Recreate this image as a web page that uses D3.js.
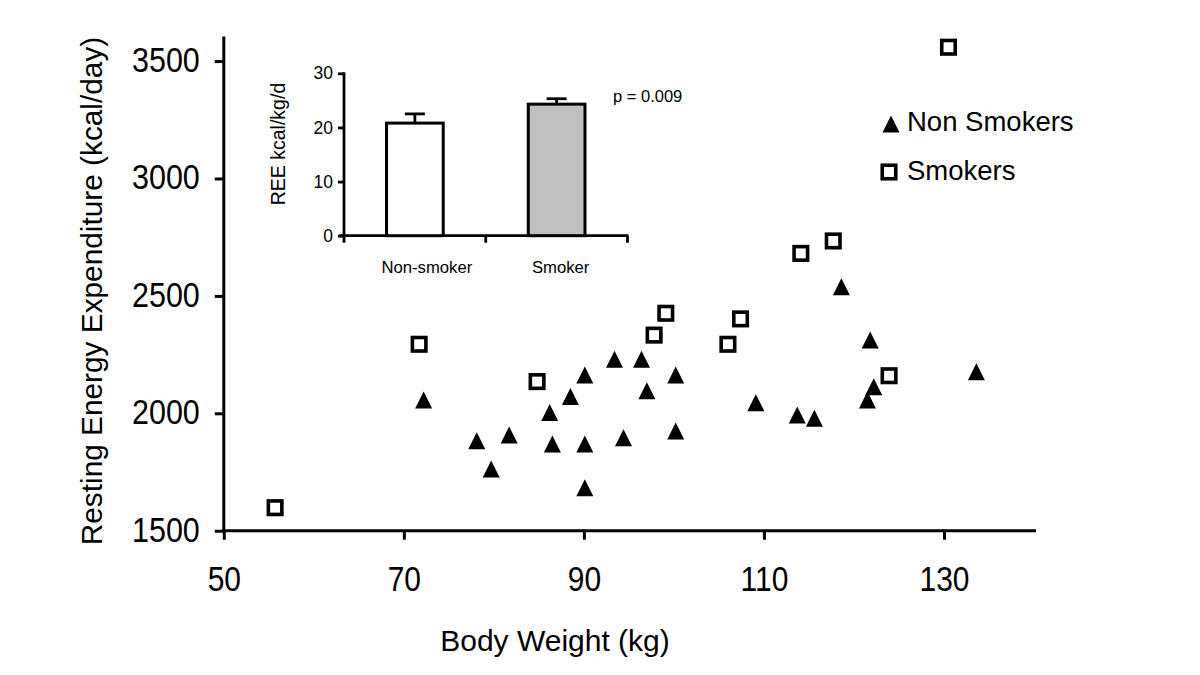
<!DOCTYPE html>
<html>
<head>
<meta charset="utf-8">
<script src="https://cdn.jsdelivr.net/npm/d3@7"></script>
<style>
  html, body { margin: 0; padding: 0; background: #fff; }
  svg { display: block; font-family: "Liberation Sans", Arial, Helvetica, sans-serif; }
</style>
</head>
<body>
<svg id="chart" width="1200" height="675"></svg>
<script>
// ---------------- data ----------------
const xTicks = [50, 70, 90, 110, 130];
const yTicks = [1500, 2000, 2500, 3000, 3500];

const nonSmokerWeight = [72.2, 78.1, 79.7, 81.7, 86.2, 86.5, 88.5, 90.1, 90.1, 90.1, 93.4, 94.4,
                         96.4, 97.0, 100.2, 100.2, 109.1, 113.7, 115.6, 118.6, 121.5, 122.2, 121.8, 133.6];
const nonSmokerREE    = [2057, 1883, 1763, 1908, 2003, 1869, 2071, 2163, 1869, 1683, 2230, 1896,
                         2230, 2096, 2163, 1925, 2045, 1993, 1979, 2539, 2057, 2113, 2312, 2177];

const smokerWeight = [55.7, 71.7, 84.8, 97.8, 99.1, 106.0, 107.4, 114.1, 117.7, 123.9, 130.5];
const smokerREE    = [1598, 2294, 2135, 2333, 2426, 2294, 2402, 2681, 2734, 2160, 3559];

const legendLabels = ["Non Smokers", "Smokers"];

const insetCategories = ["Non-smoker", "Smoker"];
const insetMeans = [20.8, 24.3];
const insetErr = [1.7, 1.0];
const insetTicks = [0, 10, 20, 30];
const insetFills = ["#ffffff", "#c0c0c0"];
const pText = "p = 0.009";

// ---------------- chart ----------------
const svg = d3.select("#chart");
svg.append("rect").attr("width", 1200).attr("height", 675).attr("fill", "#fff");

const x = d3.scaleLinear().domain([50, 140]).range([223.8, 1034]);
const y = d3.scaleLinear().domain([1500, 3600]).range([530.7, 37.6]);
const STRETCH = 1.18;

// Y axis
const gy = svg.append("g").attr("transform", "translate(223.8,0)")
  .call(d3.axisLeft(y).tickValues(yTicks).tickSize(9).tickSizeOuter(0).tickPadding(15).tickFormat(d3.format("d")));
gy.select(".domain").attr("stroke", "#000").attr("stroke-width", 3).attr("d", `M0,${y(1500)}V${y(3605)}`);
gy.selectAll(".tick line").attr("stroke", "#000").attr("stroke-width", 3);
gy.selectAll(".tick text")
  .attr("fill", "#000").attr("font-size", 30.5).attr("dy", "0.29em")
  .attr("transform", `scale(1,${STRETCH})`);

// X axis
const gx = svg.append("g").attr("transform", `translate(0,${y(1500)})`)
  .call(d3.axisBottom(x).tickValues(xTicks).tickSize(9).tickSizeOuter(0).tickFormat(d3.format("d")));
gx.select(".domain").attr("stroke", "#000").attr("stroke-width", 3).attr("d", `M${x(50) - 1.5},0H${x(140) + 2}`);
gx.selectAll(".tick line").attr("stroke", "#000").attr("stroke-width", 3);
gx.selectAll(".tick text")
  .attr("fill", "#000").attr("font-size", 30).attr("dy", 0).attr("y", 60 / STRETCH)
  .attr("transform", `scale(1,${STRETCH})`);

// Axis titles
svg.append("text")
  .attr("transform", `translate(102,291) rotate(-90)`)
  .attr("text-anchor", "middle").attr("font-size", 29.8).attr("fill", "#000")
  .text("Resting Energy Expenditure (kcal/day)");
svg.append("text")
  .attr("x", 555).attr("y", 651)
  .attr("text-anchor", "middle").attr("font-size", 30).attr("fill", "#000")
  .text("Body Weight (kg)");

// Markers
const triW = 17, triH = 17;
const triPath = `M0,${-triH / 2}L${triW / 2},${triH / 2}L${-triW / 2},${triH / 2}Z`;
const sq = 13.5;

const nonSmokers = nonSmokerWeight.map((w, i) => ({ w, r: nonSmokerREE[i] }));
const smokers = smokerWeight.map((w, i) => ({ w, r: smokerREE[i] }));

svg.append("g").selectAll("path").data(nonSmokers).join("path")
  .attr("d", triPath)
  .attr("transform", d => `translate(${x(d.w)},${y(d.r)})`)
  .attr("fill", "#000");

svg.append("g").selectAll("rect").data(smokers).join("rect")
  .attr("x", d => x(d.w) - sq / 2).attr("y", d => y(d.r) - sq / 2)
  .attr("width", sq).attr("height", sq)
  .attr("fill", "#fff").attr("stroke", "#000").attr("stroke-width", 3.6);

// Legend
const lg = svg.append("g");
lg.append("path").attr("d", triPath).attr("transform", "translate(891,124)").attr("fill", "#000");
lg.append("rect").attr("x", 889 - sq / 2).attr("y", 172 - sq / 2).attr("width", sq).attr("height", sq)
  .attr("fill", "#fff").attr("stroke", "#000").attr("stroke-width", 3.6);
lg.selectAll("text").data(legendLabels).join("text")
  .attr("x", 907).attr("y", (d, i) => [131, 180][i])
  .attr("font-size", 27.5).attr("fill", "#000").text(d => d);

// ---------------- inset bar chart ----------------
const ix = d3.scaleBand().domain(insetCategories).range([344, 627.5]);
const iy = d3.scaleLinear().domain([0, 30]).range([235.7, 73.3]);
const inset = svg.append("g");

const iyAxis = inset.append("g").attr("transform", "translate(344,0)")
  .call(d3.axisLeft(iy).tickValues(insetTicks).tickSize(6).tickSizeOuter(0).tickPadding(5));
iyAxis.select(".domain").attr("stroke", "#000").attr("stroke-width", 2.8).attr("d", `M0,${iy(0)}V${iy(30) - 1}`);
iyAxis.selectAll(".tick line").attr("stroke", "#000").attr("stroke-width", 2.8);
iyAxis.selectAll(".tick text").attr("fill", "#000").attr("font-size", 17.5);

// x axis with ticks on category boundaries
const boundaries = [ix.range()[0], ...insetCategories.map(c => ix(c) + ix.bandwidth())];
const labelShift = [12, 4];
const ixAxisG = inset.append("g").attr("transform", `translate(0,${iy(0)})`);
ixAxisG.append("path").attr("d", `M${ix.range()[0] - 5},0H${ix.range()[1] + 1}`)
  .attr("stroke", "#000").attr("stroke-width", 2.8).attr("fill", "none");
ixAxisG.selectAll("line").data(boundaries).join("line")
  .attr("x1", d => d).attr("x2", d => d).attr("y1", 0).attr("y2", 7)
  .attr("stroke", "#000").attr("stroke-width", 2.8);
ixAxisG.selectAll("text").data(insetCategories).join("text")
  .attr("x", (d, i) => ix(d) + ix.bandwidth() / 2 + labelShift[i]).attr("y", 37)
  .attr("text-anchor", "middle").attr("font-size", 16.7).attr("fill", "#000")
  .text(d => d);

const barW = ix.bandwidth() * 0.4;
const insetData = insetCategories.map((c, i) => ({ c, m: insetMeans[i], e: insetErr[i], f: insetFills[i] }));

// error bars
const eb = inset.append("g");
eb.selectAll("line.v").data(insetData).join("line").attr("class", "v")
  .attr("x1", d => ix(d.c) + ix.bandwidth() / 2).attr("x2", d => ix(d.c) + ix.bandwidth() / 2)
  .attr("y1", d => iy(d.m)).attr("y2", d => iy(d.m + d.e))
  .attr("stroke", "#000").attr("stroke-width", 2.8);
eb.selectAll("line.c").data(insetData).join("line").attr("class", "c")
  .attr("x1", d => ix(d.c) + ix.bandwidth() / 2 - 10).attr("x2", d => ix(d.c) + ix.bandwidth() / 2 + 10)
  .attr("y1", d => iy(d.m + d.e)).attr("y2", d => iy(d.m + d.e))
  .attr("stroke", "#000").attr("stroke-width", 2.8);

inset.append("g").selectAll("rect").data(insetData).join("rect")
  .attr("x", d => ix(d.c) + (ix.bandwidth() - barW) / 2)
  .attr("y", d => iy(d.m))
  .attr("width", barW).attr("height", d => iy(0) - iy(d.m))
  .attr("fill", d => d.f).attr("stroke", "#000").attr("stroke-width", 3);

inset.append("text")
  .attr("transform", "translate(285,144) rotate(-90)")
  .attr("text-anchor", "middle").attr("font-size", 19.5).attr("fill", "#000")
  .text("REE kcal/kg/d");

inset.append("text")
  .attr("x", 613).attr("y", 102)
  .attr("font-size", 16.5).attr("fill", "#000")
  .text(pText);
</script>
</body>
</html>
